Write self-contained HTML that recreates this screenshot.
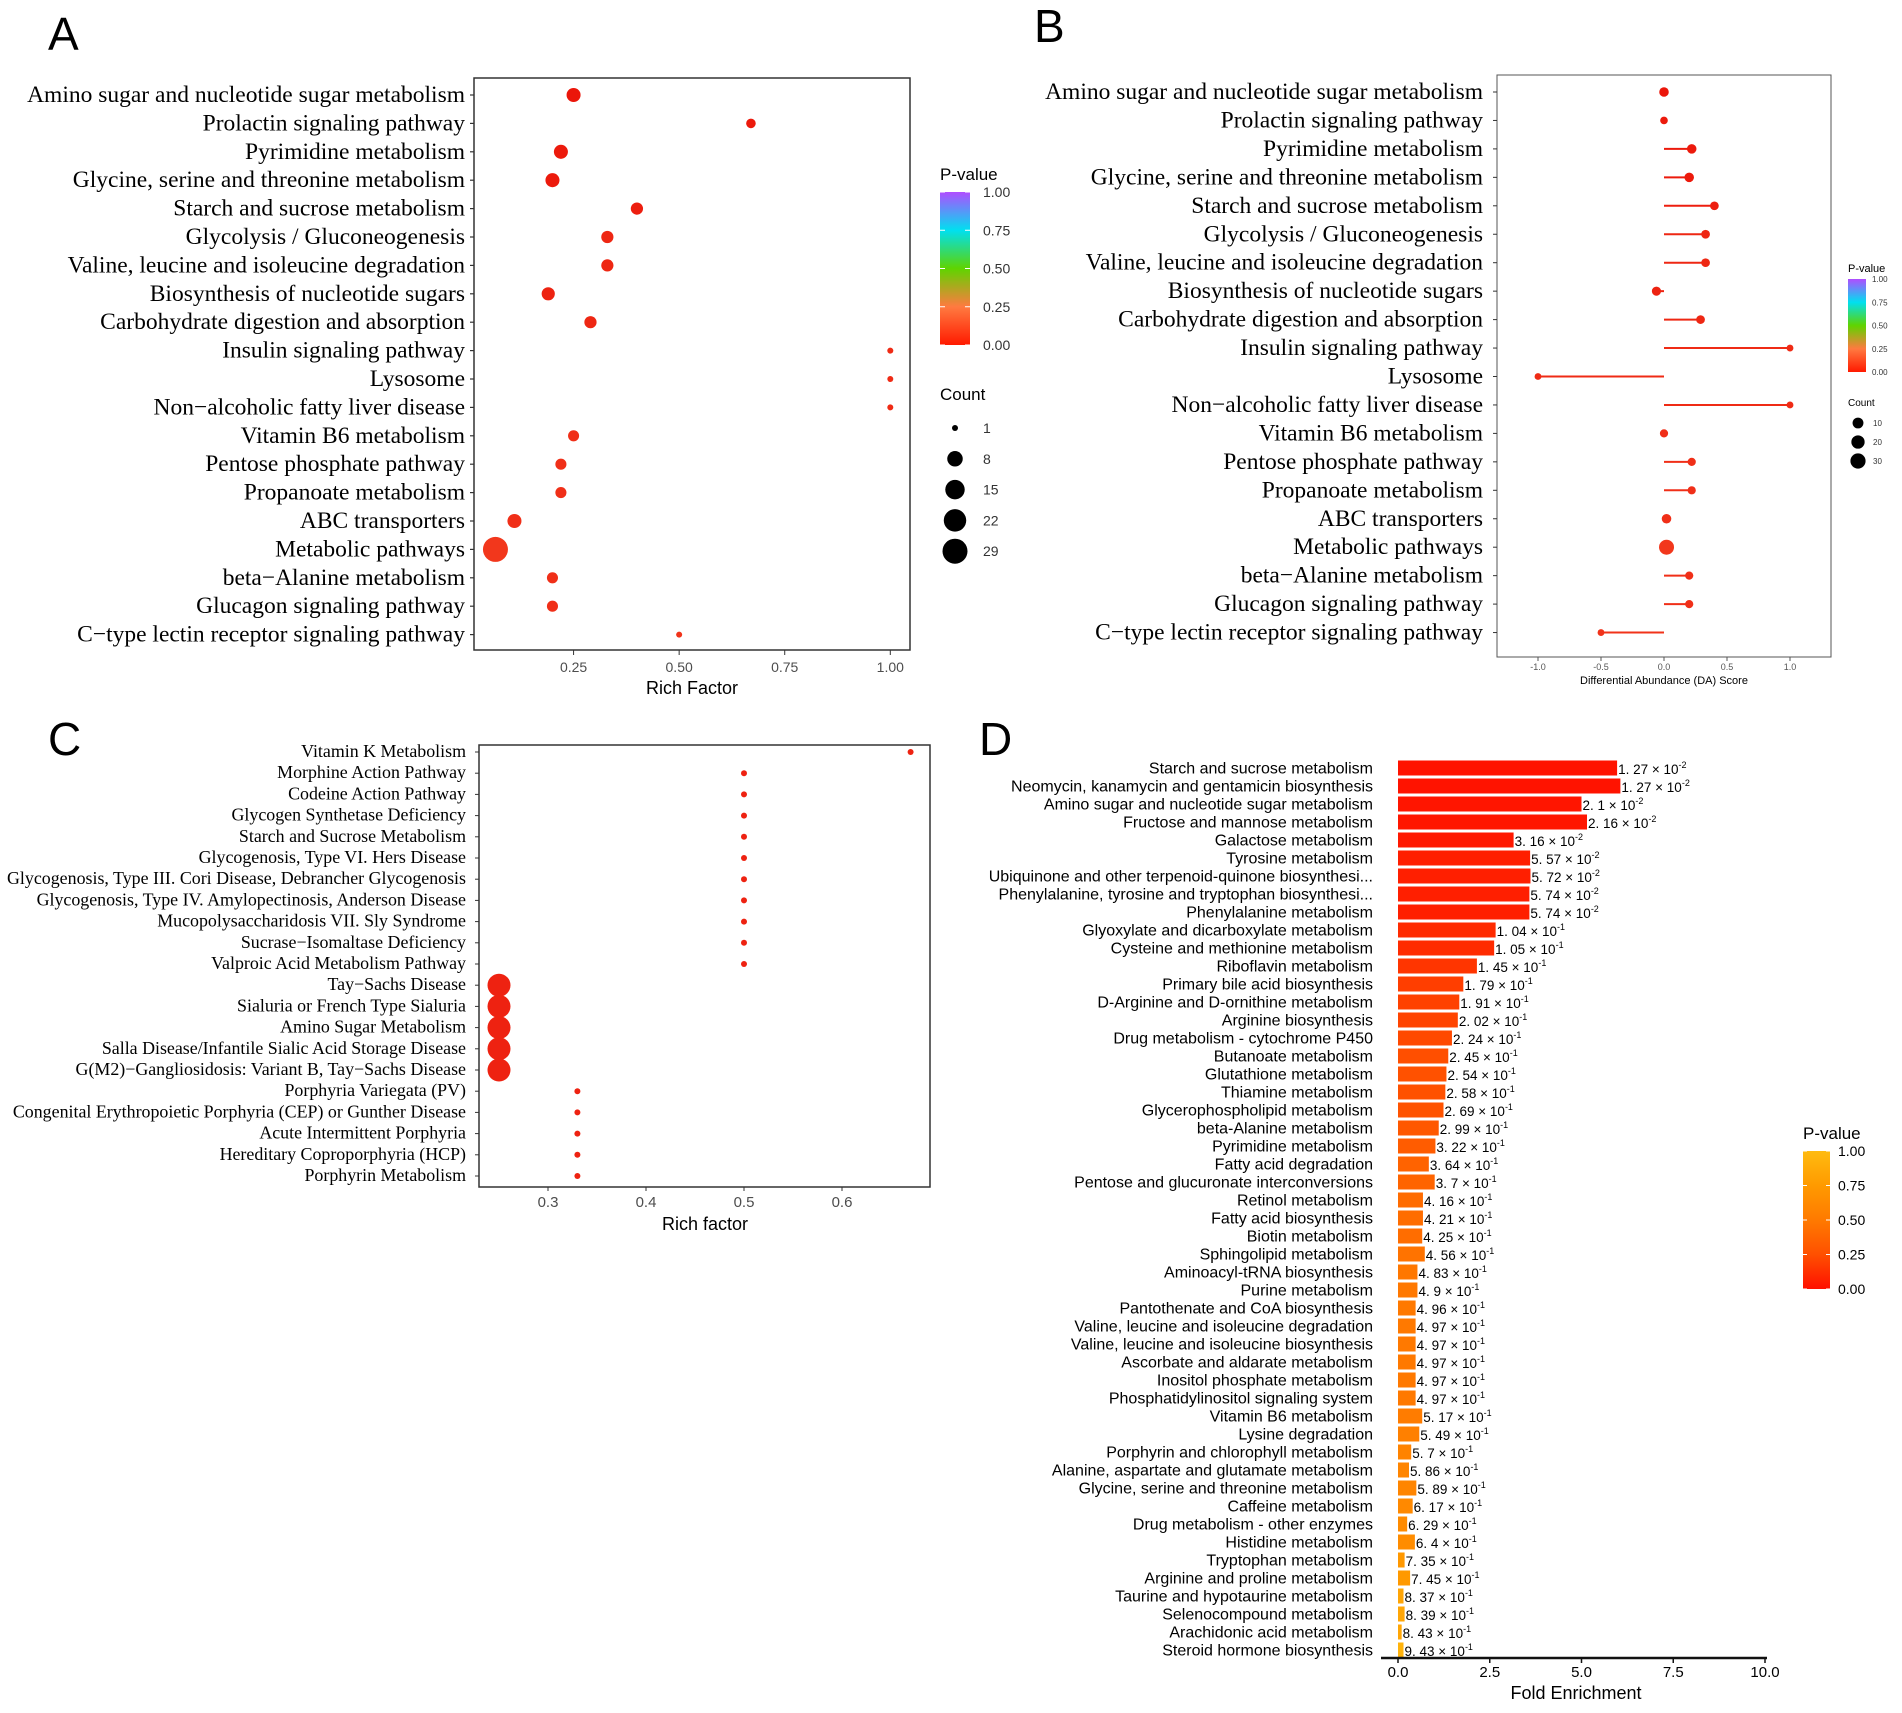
<!DOCTYPE html>
<html><head><meta charset="utf-8"><style>
body{margin:0;background:#fff}
svg{display:block}
.serif{font-family:"Liberation Serif",serif}
.sans{font-family:"Liberation Sans",sans-serif}
</style></head><body>
<svg id="fig" width="1902" height="1713" viewBox="0 0 1902 1713" xmlns="http://www.w3.org/2000/svg">
<defs>
<linearGradient id="gradRainbow" x1="0" y1="1" x2="0" y2="0">
<stop offset="0" stop-color="#ff1a00"/><stop offset="0.25" stop-color="#ff7a40"/><stop offset="0.5" stop-color="#5fd400"/><stop offset="0.75" stop-color="#00e0f0"/><stop offset="1" stop-color="#b04dff"/>
</linearGradient>
<linearGradient id="gradOrange" x1="0" y1="1" x2="0" y2="0">
<stop offset="0" stop-color="#ff1000"/><stop offset="0.25" stop-color="#ff5000"/><stop offset="0.5" stop-color="#ff7a00"/><stop offset="0.75" stop-color="#ff9a00"/><stop offset="1" stop-color="#ffbb10"/>
</linearGradient>
</defs>
<g id="root"></g>
</svg>
<script>
// ---------- Panel A data ----------
const catsA = ["Amino sugar and nucleotide sugar metabolism","Prolactin signaling pathway","Pyrimidine metabolism","Glycine, serine and threonine metabolism","Starch and sucrose metabolism","Glycolysis / Gluconeogenesis","Valine, leucine and isoleucine degradation","Biosynthesis of nucleotide sugars","Carbohydrate digestion and absorption","Insulin signaling pathway","Lysosome","Non\u2212alcoholic fatty liver disease","Vitamin B6 metabolism","Pentose phosphate pathway","Propanoate metabolism","ABC transporters","Metabolic pathways","beta\u2212Alanine metabolism","Glucagon signaling pathway","C\u2212type lectin receptor signaling pathway"];
const richA = [0.25,0.67,0.22,0.20,0.40,0.33,0.33,0.19,0.29,1.0,1.0,1.0,0.25,0.22,0.22,0.11,0.065,0.20,0.20,0.50];
const countA = [6,2,6,6,4,4,4,5,4,1,1,1,3,3,3,6,29,3,3,1];
const pA = [0.01,0.02,0.02,0.02,0.03,0.05,0.05,0.04,0.05,0.06,0.06,0.06,0.07,0.07,0.07,0.07,0.09,0.07,0.07,0.08];
const ticksA = [0.25,0.5,0.75,1.0];
const tickLabelsA = ["0.25","0.50","0.75","1.00"];
const legendCountsA = [1,8,15,22,29];
// ---------- Panel B data ----------
const daB = [0,0,0.22,0.20,0.40,0.33,0.33,-0.06,0.29,1.0,-1.0,1.0,0,0.22,0.22,0.02,0.02,0.20,0.20,-0.5];
const countB = [6,2,6,6,4,4,4,5,4,1,1,1,3,3,3,6,29,3,3,1];
const ticksB = [-1,-0.5,0,0.5,1];
const tickLabelsB = ["-1.0","-0.5","0.0","0.5","1.0"];
const legendCountsB = [10,20,30];
// ---------- Panel C data ----------
const catsC = ["Vitamin K Metabolism","Morphine Action Pathway","Codeine Action Pathway","Glycogen Synthetase Deficiency","Starch and Sucrose Metabolism","Glycogenosis, Type VI. Hers Disease","Glycogenosis, Type III. Cori Disease, Debrancher Glycogenosis","Glycogenosis, Type IV. Amylopectinosis, Anderson Disease","Mucopolysaccharidosis VII. Sly Syndrome","Sucrase\u2212Isomaltase Deficiency","Valproic Acid Metabolism Pathway","Tay\u2212Sachs Disease","Sialuria or French Type Sialuria","Amino Sugar Metabolism","Salla Disease/Infantile Sialic Acid Storage Disease","G(M2)\u2212Gangliosidosis: Variant B, Tay\u2212Sachs Disease","Porphyria Variegata (PV)","Congenital Erythropoietic Porphyria (CEP) or Gunther Disease","Acute Intermittent Porphyria","Hereditary Coproporphyria (HCP)","Porphyrin Metabolism"];
const richC = [0.67,0.5,0.5,0.5,0.5,0.5,0.5,0.5,0.5,0.5,0.5,0.25,0.25,0.25,0.25,0.25,0.33,0.33,0.33,0.33,0.33];
const countC = [1,1,1,1,1,1,1,1,1,1,1,4,4,4,4,4,1,1,1,1,1];
const ticksC = [0.3,0.4,0.5,0.6];
const tickLabelsC = ["0.3","0.4","0.5","0.6"];
// ---------- Panel D data ----------
const catsD = ["Starch and sucrose metabolism","Neomycin, kanamycin and gentamicin biosynthesis","Amino sugar and nucleotide sugar metabolism","Fructose and mannose metabolism","Galactose metabolism","Tyrosine metabolism","Ubiquinone and other terpenoid-quinone biosynthesi...","Phenylalanine, tyrosine and tryptophan biosynthesi...","Phenylalanine metabolism","Glyoxylate and dicarboxylate metabolism","Cysteine and methionine metabolism","Riboflavin metabolism","Primary bile acid biosynthesis","D-Arginine and D-ornithine metabolism","Arginine biosynthesis","Drug metabolism - cytochrome P450","Butanoate metabolism","Glutathione metabolism","Thiamine metabolism","Glycerophospholipid metabolism","beta-Alanine metabolism","Pyrimidine metabolism","Fatty acid degradation","Pentose and glucuronate interconversions","Retinol metabolism","Fatty acid biosynthesis","Biotin metabolism","Sphingolipid metabolism","Aminoacyl-tRNA biosynthesis","Purine metabolism","Pantothenate and CoA biosynthesis","Valine, leucine and isoleucine degradation","Valine, leucine and isoleucine biosynthesis","Ascorbate and aldarate metabolism","Inositol phosphate metabolism","Phosphatidylinositol signaling system","Vitamin B6 metabolism","Lysine degradation","Porphyrin and chlorophyll metabolism","Alanine, aspartate and glutamate metabolism","Glycine, serine and threonine metabolism","Caffeine metabolism","Drug metabolism - other enzymes","Histidine metabolism","Tryptophan metabolism","Arginine and proline metabolism","Taurine and hypotaurine metabolism","Selenocompound metabolism","Arachidonic acid metabolism","Steroid hormone biosynthesis"];
const foldD = [5.97,6.06,5.0,5.15,3.15,3.6,3.61,3.58,3.58,2.66,2.62,2.15,1.78,1.67,1.63,1.47,1.37,1.32,1.29,1.24,1.11,1.02,0.84,1.0,0.68,0.68,0.66,0.73,0.53,0.53,0.48,0.48,0.48,0.48,0.48,0.48,0.66,0.58,0.36,0.30,0.50,0.40,0.25,0.46,0.18,0.33,0.15,0.18,0.10,0.15];
const pD = [0.0127,0.0127,0.021,0.0216,0.0316,0.0557,0.0572,0.0574,0.0574,0.104,0.105,0.145,0.179,0.191,0.202,0.224,0.245,0.254,0.258,0.269,0.299,0.322,0.364,0.37,0.416,0.421,0.425,0.456,0.483,0.49,0.496,0.497,0.497,0.497,0.497,0.497,0.517,0.549,0.57,0.586,0.589,0.617,0.629,0.64,0.735,0.745,0.837,0.839,0.843,0.943];
const ticksD = [0,2.5,5,7.5,10];
const tickLabelsD = ["0.0","2.5","5.0","7.5","10.0"];

const NS="http://www.w3.org/2000/svg";
const root=document.getElementById('root');
function mk(tag,attrs,parent,txt){const e=document.createElementNS(NS,tag);for(const k in attrs)e.setAttribute(k,attrs[k]);if(txt!==undefined)e.textContent=txt;(parent||root).appendChild(e);return e;}
function hex(c){return [parseInt(c.slice(1,3),16),parseInt(c.slice(3,5),16),parseInt(c.slice(5,7),16)];}
function interp(stops,t){t=Math.max(0,Math.min(1,t));for(let i=0;i<stops.length-1;i++){const a=stops[i],b=stops[i+1];if(t<=b[0]){const f=(t-a[0])/(b[0]-a[0]);const A=hex(a[1]),B=hex(b[1]);return 'rgb('+A.map((v,j)=>Math.round(v+(B[j]-v)*f)).join(',')+')';}}return stops[stops.length-1][1];}
const rainbow=[[0,'#ea1208'],[0.25,'#ff7a40'],[0.5,'#5fd400'],[0.75,'#00e0f0'],[1,'#b04dff']];
const orangeStops=[[0,'#ff1000'],[0.25,'#ff5000'],[0.5,'#ff7a00'],[0.75,'#ff9a00'],[1,'#ffbb10']];

// ===== Panel letters =====
[["A",48,50],["B",1034,42],["C",48,755],["D",979,755]].forEach(([l,x,y])=>{
  const t=mk('text',{x:x,y:y,'font-size':46,class:'sans'},root,l);
  
  
});

// ===== Panel A =====
const gA=mk('g',{});


const xA=v=>468+v*422.3, yA=i=>95+i*28.4, rA=c=>3+9.5*Math.sqrt((c-1)/28);
mk('rect',{x:474,y:78,width:436,height:572,fill:'none',stroke:'#333','stroke-width':1.5},gA);
catsA.forEach((c,i)=>{
  mk('line',{x1:470,x2:474,y1:yA(i),y2:yA(i),stroke:'#333','stroke-width':1.2},gA);
  const t=mk('text',{x:465,y:yA(i)+7,'text-anchor':'end','font-size':23.5,class:'serif'},gA,c);
  
  
  const d=mk('circle',{cx:xA(richA[i]),cy:yA(i),r:rA(countA[i]),fill:interp(rainbow,pA[i])},gA);
  
  
});
ticksA.forEach((v,i)=>{
  mk('line',{x1:xA(v),x2:xA(v),y1:650,y2:655,stroke:'#333'},gA);
  const t=mk('text',{x:xA(v),y:672,'text-anchor':'middle','font-size':14,fill:'#4d4d4d',class:'sans'},gA,tickLabelsA[i]);
  
  
});
const tA=mk('text',{x:692,y:694,'text-anchor':'middle','font-size':18,class:'sans'},gA,'Rich Factor');


const lgA=mk('g',{},gA);


mk('text',{x:940,y:180,'font-size':17,class:'sans'},lgA,'P-value');
mk('rect',{x:940,y:192,width:30,height:153,fill:'url(#gradRainbow)'},lgA);
["0.00","0.25","0.50","0.75","1.00"].forEach((s,i)=>{const y=345-i*38.25;mk('line',{x1:940,x2:945,y1:y,y2:y,stroke:'#fff'},lgA);mk('line',{x1:965,x2:970,y1:y,y2:y,stroke:'#fff'},lgA);mk('text',{x:983,y:y+5,'font-size':14,fill:'#333',class:'sans'},lgA,s);});
mk('text',{x:940,y:400,'font-size':17,class:'sans'},lgA,'Count');
legendCountsA.forEach((c,i)=>{const y=428+i*30.8;mk('circle',{cx:955,cy:y,r:rA(c),fill:'#000'},lgA);mk('text',{x:983,y:y+5,'font-size':14,fill:'#333',class:'sans'},lgA,String(c));});

// ===== Panel B =====
const gB=mk('g',{});


const xB=v=>1664+v*126, yB=i=>92+i*28.45, rB=c=>2.5+5*Math.sqrt(c/29);
mk('rect',{x:1497,y:75,width:334,height:582,fill:'none',stroke:'#555','stroke-width':1},gB);
catsA.forEach((c,i)=>{
  mk('line',{x1:1493,x2:1497,y1:yB(i),y2:yB(i),stroke:'#333'},gB);
  const t=mk('text',{x:1483,y:yB(i)+7,'text-anchor':'end','font-size':23.5,class:'serif'},gB,c);
  
  
  const col=interp(rainbow,pA[i]);
  const l=mk('line',{x1:xB(0),x2:xB(daB[i]),y1:yB(i),y2:yB(i),stroke:col,'stroke-width':2},gB);
  
  
  const d=mk('circle',{cx:xB(daB[i]),cy:yB(i),r:rB(countB[i]),fill:col},gB);
  
  
});
ticksB.forEach((v,i)=>{
  mk('line',{x1:xB(v),x2:xB(v),y1:657,y2:661,stroke:'#555'},gB);
  const t=mk('text',{x:xB(v),y:670,'text-anchor':'middle','font-size':9,fill:'#555',class:'sans'},gB,tickLabelsB[i]);
  
  
});
const tB=mk('text',{x:1664,y:684,'text-anchor':'middle','font-size':11,class:'sans'},gB,'Differential Abundance (DA) Score');


const lgB=mk('g',{},gB);


mk('text',{x:1848,y:272,'font-size':11,class:'sans'},lgB,'P-value');
mk('rect',{x:1848,y:279,width:18,height:93,fill:'url(#gradRainbow)'},lgB);
["0.00","0.25","0.50","0.75","1.00"].forEach((s,i)=>{const y=372-i*23.25;mk('text',{x:1872,y:y+3,'font-size':8,fill:'#333',class:'sans'},lgB,s);});
mk('text',{x:1848,y:406,'font-size':10,class:'sans'},lgB,'Count');
legendCountsB.forEach((c,i)=>{const y=423+i*19;mk('circle',{cx:1858,cy:y,r:rB(c),fill:'#000'},lgB);mk('text',{x:1873,y:y+3,'font-size':8,fill:'#333',class:'sans'},lgB,String(c));});

// ===== Panel C =====
const gC=mk('g',{});


const xC=v=>548+(v-0.3)*980, yC=i=>752+i*21.2, rC=c=>c>1?11.5:3;
mk('rect',{x:479,y:745,width:451,height:442,fill:'none',stroke:'#333','stroke-width':1.5},gC);
catsC.forEach((c,i)=>{
  mk('line',{x1:475,x2:479,y1:yC(i),y2:yC(i),stroke:'#333'},gC);
  const t=mk('text',{x:466,y:yC(i)+5,'text-anchor':'end','font-size':17.9,class:'serif'},gC,c);
  
  
  const d=mk('circle',{cx:xC(richC[i]),cy:yC(i),r:rC(countC[i]),fill:'#ee2211'},gC);
  
  
});
ticksC.forEach((v,i)=>{
  mk('line',{x1:xC(v),x2:xC(v),y1:1187,y2:1191,stroke:'#333'},gC);
  const t=mk('text',{x:xC(v),y:1207,'text-anchor':'middle','font-size':15,fill:'#4d4d4d',class:'sans'},gC,tickLabelsC[i]);
  
  
});
const tC=mk('text',{x:705,y:1230,'text-anchor':'middle','font-size':18,class:'sans'},gC,'Rich factor');



// ===== Panel D =====
const gD=mk('g',{});


const xD=v=>1398+v*36.7, yD=i=>768+i*18.0;
function fmt(p){const e=Math.floor(Math.log10(p));const m=parseFloat((p/Math.pow(10,e)).toFixed(2)).toString();return [m.replace('.', '. '),e];}
catsD.forEach((c,i)=>{
  const t=mk('text',{x:1373,y:yD(i)+5.5,'text-anchor':'end','font-size':16,class:'sans'},gD,c);
  
  
  const b=mk('rect',{x:xD(0),y:yD(i)-7.5,width:xD(foldD[i])-xD(0),height:15,fill:interp(orangeStops,pD[i])},gD);
  
  
  const [m,e]=fmt(pD[i]);
  const v=mk('text',{x:xD(foldD[i])+1,y:yD(i)+6,'font-size':13.5,class:'sans'},gD);
  
  
  mk('tspan',{},v,m+' \u00d7 10');
  mk('tspan',{dy:-6,'font-size':9},v,String(e));
});
mk('line',{x1:1381,x2:1767,y1:1658,y2:1658,stroke:'#111','stroke-width':2.5},gD);
ticksD.forEach((v,i)=>{
  mk('line',{x1:xD(v),x2:xD(v),y1:1658,y2:1663,stroke:'#111','stroke-width':1.5},gD);
  const t=mk('text',{x:xD(v),y:1677,'text-anchor':'middle','font-size':15,class:'sans'},gD,tickLabelsD[i]);
  
  
});
const tD=mk('text',{x:1576,y:1699,'text-anchor':'middle','font-size':18,class:'sans'},gD,'Fold Enrichment');


const lgD=mk('g',{},gD);


mk('text',{x:1803,y:1139,'font-size':17,class:'sans'},lgD,'P-value');
mk('rect',{x:1803,y:1151,width:27,height:138,fill:'url(#gradOrange)'},lgD);
["0.00","0.25","0.50","0.75","1.00"].forEach((s,i)=>{const y=1289-i*34.5;mk('line',{x1:1803,x2:1807,y1:y,y2:y,stroke:'#fff'},lgD);mk('line',{x1:1826,x2:1830,y1:y,y2:y,stroke:'#fff'},lgD);mk('text',{x:1838,y:y+5,'font-size':14,class:'sans'},lgD,s);});
</script>
</body></html>
